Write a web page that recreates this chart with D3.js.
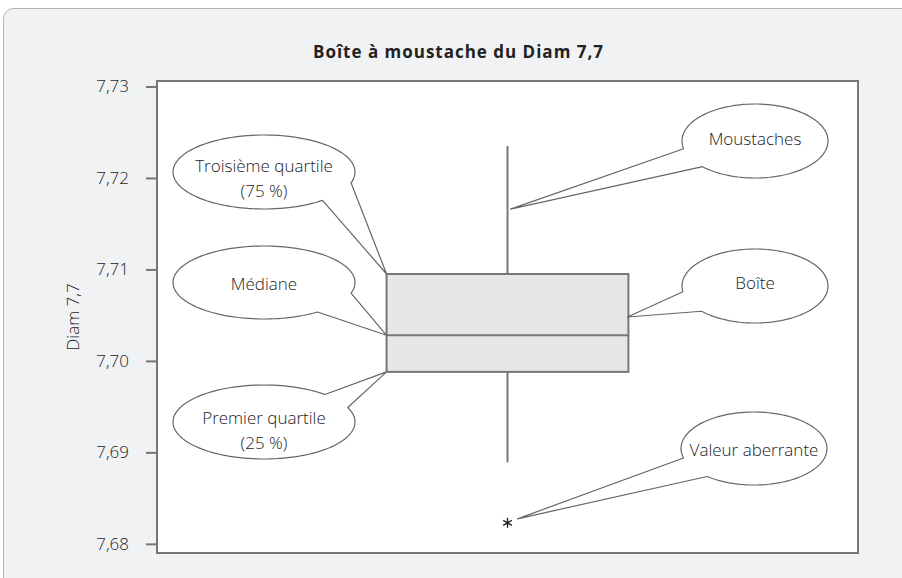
<!DOCTYPE html>
<html>
<head>
<meta charset="utf-8">
<script src="https://cdn.jsdelivr.net/npm/d3@7"></script>
<style>
  html, body { margin: 0; padding: 0; background: #fff; }
  svg { display: block; }
</style>
</head>
<body>
<div id="chart"></div>
<script>
// data
var categories = ["Diam 7,7"];
var quartiles = [7.6988, 7.7028, 7.7095];   // Q1, median, Q3
var whiskers = [7.6889, 7.7235];             // low, high
var outliers = [7.6823];
var yTicks = [7.68, 7.69, 7.70, 7.71, 7.72, 7.73];
var titleText = "Boîte à moustache du Diam 7,7";
var yTitle = "Diam 7,7";

var width = 902, height = 578;
var plot = {left: 157, right: 858, top: 81, bottom: 553};
var lineColor = "#777";
var font = "'Open Sans', Lato, sans-serif";

var svg = d3.select("#chart").append("svg")
    .attr("width", width)
    .attr("height", height);

// card background
svg.append("rect")
    .attr("x", 3.5).attr("y", 8.5)
    .attr("width", width + 20).attr("height", height + 20)
    .attr("rx", 10)
    .attr("fill", "#f1f2f4")
    .attr("stroke", "#b4b4b4")
    .attr("stroke-width", 1);

// title
svg.append("text")
    .attr("x", 458).attr("y", 58)
    .attr("text-anchor", "middle")
    .attr("font-family", font)
    .attr("font-weight", 700)
    .attr("font-size", "17px")
    .attr("textLength", 290)
    .attr("lengthAdjust", "spacing")
    .attr("fill", "#222")
    .text(titleText);

var y = d3.scaleLinear()
    .domain([7.679, 7.7306])
    .range([plot.bottom, plot.top]);

var x = d3.scaleBand()
    .domain(categories)
    .range([plot.left, plot.right])
    .paddingInner(0.487)
    .paddingOuter(0.487);

var fr = d3.formatLocale({decimal: ",", thousands: " ", grouping: [3], currency: ["", " €"]});

// plot frame
svg.append("rect")
    .attr("x", plot.left).attr("y", plot.top)
    .attr("width", plot.right - plot.left)
    .attr("height", plot.bottom - plot.top)
    .attr("fill", "#fff")
    .attr("stroke", lineColor)
    .attr("stroke-width", 2);

// y axis
var yAxis = svg.append("g")
    .attr("transform", "translate(" + plot.left + ",0)")
    .call(d3.axisLeft(y).tickValues(yTicks).tickSize(11).tickPadding(17).tickFormat(fr.format(".2f")));
yAxis.select(".domain").remove();
yAxis.selectAll(".tick line").attr("stroke", lineColor).attr("stroke-width", 2);
yAxis.selectAll(".tick text")
    .attr("font-family", font)
    .attr("font-weight", 300)
    .attr("font-size", "17px")
    .attr("fill", "#222");

svg.append("text")
    .attr("transform", "translate(72," + (plot.top + plot.bottom) / 2 + ") rotate(-90)")
    .attr("text-anchor", "middle")
    .attr("dominant-baseline", "central")
    .attr("font-family", font)
    .attr("font-weight", 300)
    .attr("font-size", "17px")
    .attr("fill", "#222")
    .text(yTitle);

// box plot
var cx = x(categories[0]) + x.bandwidth() / 2;
var bx0 = x(categories[0]), bx1 = x(categories[0]) + x.bandwidth();

svg.append("line")
    .attr("x1", cx).attr("x2", cx)
    .attr("y1", y(whiskers[1])).attr("y2", y(quartiles[2]))
    .attr("stroke", lineColor).attr("stroke-width", 2);
svg.append("line")
    .attr("x1", cx).attr("x2", cx)
    .attr("y1", y(quartiles[0])).attr("y2", y(whiskers[0]))
    .attr("stroke", lineColor).attr("stroke-width", 2);

svg.append("rect")
    .attr("x", bx0).attr("y", y(quartiles[2]))
    .attr("width", x.bandwidth())
    .attr("height", y(quartiles[0]) - y(quartiles[2]))
    .attr("fill", "#e6e7e9")
    .attr("stroke", lineColor)
    .attr("stroke-width", 2);

svg.append("line")
    .attr("x1", bx0).attr("x2", bx1)
    .attr("y1", y(quartiles[1])).attr("y2", y(quartiles[1]))
    .attr("stroke", lineColor).attr("stroke-width", 2);

svg.selectAll(".outlier")
    .data(outliers)
    .enter().append("path")
    .attr("class", "outlier")
    .attr("transform", function(d) { return "translate(" + cx + "," + y(d) + ")"; })
    .attr("d", d3.symbol().type(d3.symbolAsterisk).size(70))
    .attr("fill", "none")
    .attr("stroke", "#222")
    .attr("stroke-width", 1.4);

// callouts: speech bubbles pointing at parts of the box
var callouts = [
  {lines: ["Troisième quartile", "(75 %)"], cx: 264, cy: 172, rx: 91, ry: 37, a: 17, b: 50, dy: -7,
   tx: bx0, ty: y(quartiles[2])},
  {lines: ["Médiane"], cx: 264, cy: 282.5, rx: 91, ry: 36.5, a: 17, b: 54, dy: 0.5,
   tx: bx0, ty: y(quartiles[1])},
  {lines: ["Premier quartile", "(25 %)"], cx: 264, cy: 422, rx: 91, ry: 37, a: -48, b: -23, dy: -5,
   tx: bx0, ty: y(quartiles[0])},
  {lines: ["Moustaches"], cx: 755, cy: 141, rx: 73, ry: 37, a: 168, b: 136, dy: -3,
   tx: cx + 3, ty: y(7.7166)},
  {lines: ["Boîte"], cx: 755, cy: 286, rx: 73, ry: 37, a: 171, b: 137, dy: -4,
   tx: bx1 - 1, ty: y(7.7048)},
  {lines: ["Valeur aberrante"], cx: 754, cy: 448.5, rx: 73, ry: 36.5, a: 165, b: 130, dy: 0.5,
   tx: cx + 10, ty: y(outliers[0]) - 4}
];

function bubblePath(c) {
  var rad = Math.PI / 180;
  function pt(deg) {
    return [c.cx + c.rx * Math.cos(deg * rad), c.cy + c.ry * Math.sin(deg * rad)];
  }
  var end = c.b > c.a ? c.a + 360 : c.a - 360;
  var pts = [pt(c.a), [c.tx, c.ty]];
  var n = 120;
  for (var i = 0; i <= n; i++) {
    pts.push(pt(c.b + (end - c.b) * i / n));
  }
  return d3.line()(pts) + "Z";
}

var bubbles = svg.selectAll(".callout")
    .data(callouts)
    .enter().append("g")
    .attr("class", "callout");

bubbles.append("path")
    .attr("d", bubblePath)
    .attr("fill", "#fff")
    .attr("stroke", "#666")
    .attr("stroke-width", 1.2)
    .attr("stroke-linejoin", "round");

bubbles.each(function(c) {
  var g = d3.select(this);
  var lh = 25;
  c.lines.forEach(function(t, i) {
    g.append("text")
        .attr("x", c.cx)
        .attr("y", c.cy + c.dy + i * lh)
        .attr("text-anchor", "middle")
        .attr("dominant-baseline", "central")
        .attr("font-family", font)
        .attr("font-weight", 300)
        .attr("font-size", "17px")
        .attr("fill", "#222")
        .text(t);
  });
});
</script>
</body>
</html>
